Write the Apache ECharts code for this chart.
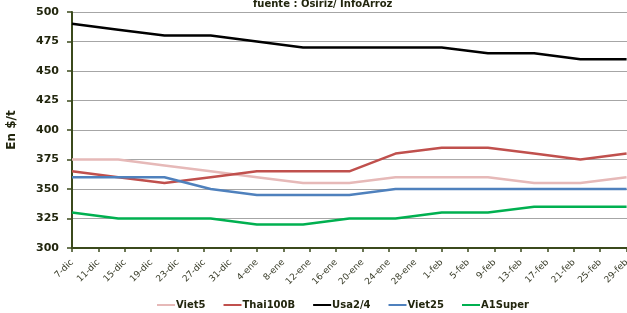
<!DOCTYPE html>
<html>
<head>
<meta charset="utf-8">
<script src="https://cdn.jsdelivr.net/npm/echarts@6/dist/echarts.min.js"></script>
<style>
html,body{margin:0;padding:0;background:#fff;}
#chart{width:627px;height:313px;}
</style>
</head>
<body>
<div id="chart"></div>
<script>
// Tick labels every 4 days starting 7-dic (day 0)
var tickLabels = ['7-dic','11-dic','15-dic','19-dic','23-dic','27-dic','31-dic',
  '4-ene','8-ene','12-ene','16-ene','20-ene','24-ene','28-ene',
  '1-feb','5-feb','9-feb','13-feb','17-feb','21-feb','25-feb','29-feb'];
// Weekly observations, day offsets from 7-dic
var obsDays = [0, 7, 14, 21, 28, 35, 42, 49, 56, 63, 70, 77, 84];
var seriesNames = ['Viet5', 'Thai100B', 'Usa2/4', 'Viet25', 'A1Super'];
var viet5    = [375, 375, 370, 365, 360, 355, 355, 360, 360, 360, 355, 355, 360];
var thai100B = [365, 360, 355, 360, 365, 365, 365, 380, 385, 385, 380, 375, 380];
var usa24    = [490, 485, 480, 480, 475, 470, 470, 470, 470, 465, 465, 460, 460];
var viet25   = [360, 360, 360, 350, 345, 345, 345, 350, 350, 350, 350, 350, 350];
var a1Super  = [330, 325, 325, 325, 320, 320, 325, 325, 330, 330, 335, 335, 335];

var colors = ['#e6b9b8', '#c0504d', '#000000', '#4f81bd', '#00b050'];
var values = [viet5, thai100B, usa24, viet25, a1Super];

function pairs(vals) {
  return obsDays.map(function (d, i) { return [d, vals[i]]; });
}

var textColor = '#22260e';
var axisColor = '#3b4a1c';

var chart = echarts.init(document.getElementById('chart'));
chart.setOption({
  animation: false,
  title: {
    text: 'fuente : Osiriz/ InfoArroz',
    left: 248,
    top: -6,
    textStyle: { fontFamily: 'DejaVu Sans', fontSize: 10, fontWeight: 'bold', color: textColor }
  },
  legend: {
    data: seriesNames,
    left: 152,
    top: 295,
    itemWidth: 18,
    itemHeight: 2,
    itemGap: 18,
    icon: 'rect',
    textStyle: { fontFamily: 'DejaVu Sans', fontSize: 10, fontWeight: 'bold', color: textColor, padding: [0, 0, 0, -4] }
  },
  grid: { left: 72, top: 12, bottom: 65, right: -26, outerBoundsMode: 'none' },
  xAxis: {
    type: 'value',
    min: 0,
    max: 88,
    interval: 4,
    axisLine: { show: true, lineStyle: { color: axisColor, width: 2 } },
    axisTick: { show: true, length: 4, lineStyle: { color: axisColor, width: 1.5 } },
    splitLine: { show: false },
    axisLabel: {
      rotate: 45,
      margin: 13,
      fontFamily: 'DejaVu Sans',
      fontSize: 9,
      color: '#3a3d2a',
      showMaxLabel: false,
      formatter: function (v) {
        var i = Math.round(v / 4);
        return (v % 4 === 0 && i < tickLabels.length) ? tickLabels[i] : '';
      }
    }
  },
  yAxis: {
    type: 'value',
    min: 300,
    max: 500,
    interval: 25,
    name: 'En $/t',
    nameLocation: 'middle',
    nameGap: 54,
    nameRotate: 90,
    nameTextStyle: { fontFamily: 'DejaVu Sans', fontSize: 12, fontWeight: 'bold', color: textColor },
    axisLine: { show: true, lineStyle: { color: axisColor, width: 2 } },
    axisTick: { show: true, length: 5, lineStyle: { color: axisColor, width: 1.5 } },
    splitLine: { show: true, lineStyle: { color: '#a6a6a6', width: 1 } },
    axisLabel: {
      margin: 13,
      fontFamily: 'DejaVu Sans',
      fontSize: 11,
      fontWeight: 'bold',
      color: textColor
    }
  },
  series: seriesNames.map(function (n, k) {
    return {
      name: n,
      type: 'line',
      data: pairs(values[k]),
      showSymbol: false,
      symbol: 'none',
      color: colors[k],
      lineStyle: { width: 2.5, color: colors[k] },
      z: k === 2 ? 3 : 2
    };
  })
});
</script>
</body>
</html>
